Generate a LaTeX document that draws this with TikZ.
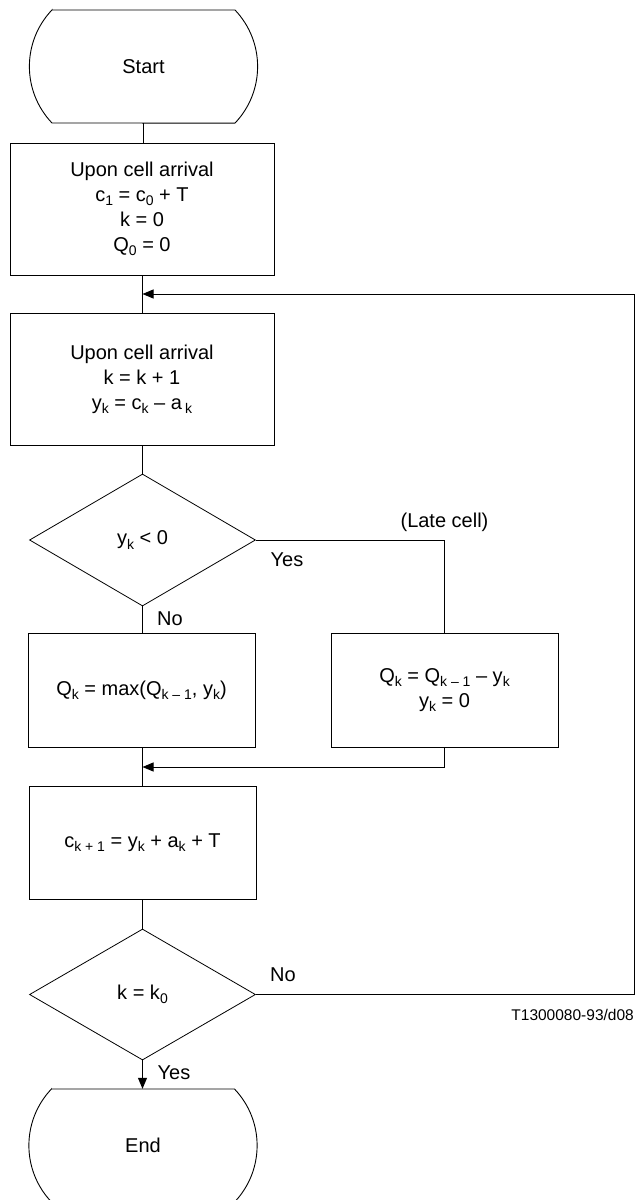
\documentclass[tikz,border=0pt]{standalone}
\usepackage{fontspec}
\setmainfont{Liberation Sans}
\usetikzlibrary{shapes.geometric,arrows.meta}
% lowered, smaller index
\newcommand\sbs[1]{\raisebox{-4.5pt}{\fontsize{14}{14}\selectfont #1}}

\begin{document}
\begin{tikzpicture}[x=1pt,y=-1pt,
  every node/.style={font=\fontsize{20}{25}\selectfont},
  proc/.style={draw, line width=1pt, rectangle, align=center, inner sep=0pt},
  decision/.style={draw, line width=0.8pt, diamond, inner sep=0pt,
                   minimum width=226pt, minimum height=132pt},
  term/.style={inner sep=0pt, minimum width=228pt, minimum height=113pt},
  outline/.style={line width=0.9pt},
  flow/.style={line width=1pt},
  arrowflow/.style={flow, -{Triangle[length=11pt,width=9pt]}},
  lbl/.style={inner sep=0pt}]

\fill[white] (0,0) rectangle (635,1200);
\useasboundingbox (0,0) rectangle (635,1200);

% terminals
\node[term] (start) at (143.5,66.5) {Start};
\draw[outline, shift={(start.center)}]
  (-91.5,-56.5) -- (91.5,-56.5) arc[start angle=-43.6, end angle=43.6, radius=82]
  -- (-91.5,56.5) arc[start angle=136.4, end angle=223.6, radius=82] -- cycle;

\node[term] (end) at (143,1145.5) {End};
\draw[outline, shift={(end.center)}]
  (-91.5,-56.5) -- (91.5,-56.5) arc[start angle=-43.6, end angle=43.6, radius=82]
  -- (-91.5,56.5) arc[start angle=136.4, end angle=223.6, radius=82] -- cycle;

% processing steps
\node[proc, minimum width=264pt, minimum height=132pt] (init) at (142,209)
  {Upon cell arrival\\ c\sbs{1} = c\sbs{0} + T\\ k = 0\\ Q\sbs{0} = 0};
\node[proc, minimum width=264pt, minimum height=132pt] (arr) at (142,379)
  {Upon cell arrival\\ k = k + 1\\ y\sbs{k} = c\sbs{k} -- a\,\sbs{k}};
\node[decision] (d1) at (142.5,540) {y\sbs{k} < 0};
\node[proc, minimum width=227pt, minimum height=114pt] (qmax) at (141.5,690)
  {Q\sbs{k} = max(Q\sbs{k -- 1}, y\sbs{k})};
\node[proc, minimum width=227pt, minimum height=114pt] (late) at (444.5,690)
  {Q\sbs{k} = Q\sbs{k -- 1} -- y\sbs{k}\\ y\sbs{k} = 0};
\node[proc, minimum width=227pt, minimum height=113pt] (next) at (142.5,842.5)
  {c\sbs{k + 1} = y\sbs{k} + a\sbs{k} + T};
\node[decision, minimum height=131pt] (d2) at (142.5,994.5) {k = k\sbs{0}};

% junction points and right-hand return rail
\coordinate (join1) at (142.5,294);
\coordinate (join2) at (142.5,767);
\coordinate (rail) at (634,0);

% connectors
\draw[flow] (start.south) -- (start.south |- init.north);
\draw[flow] (init.south) -- (init.south |- arr.north);
\draw[flow] (arr.south -| d1.north) -- (d1.north);
\draw[flow] (d1.south) -- (d1.south |- qmax.north);
\draw[flow] (d1.east) -- (d1.east -| late.north) -- (late.north);
\draw[flow] (qmax.south -| d1.south) -- (next.north -| d1.south);
\draw[arrowflow] (late.south) -- (late.south |- join2) -- (join2);
\draw[flow] (next.south -| d2.north) -- (d2.north);
\draw[arrowflow] (d2.east) -- (d2.east -| rail) -- (rail |- join1) -- (join1);
\draw[arrowflow] (d2.south) -- (d2.south |- end.north);

% branch labels
\node[lbl] (latecell) at (444.5,522) {(Late cell)};
\node[lbl] (yes1) at (287,560) {Yes};
\node[lbl] (no1) at (170,619) {No};
\node[lbl] (no2) at (283,975) {No};
\node[lbl] (yes2) at (174,1073) {Yes};
\node[lbl, anchor=east, font=\fontsize{15.5}{18}\selectfont] (ref) at (634,1015) {T1300080-93/d08};
\end{tikzpicture}
\end{document}
